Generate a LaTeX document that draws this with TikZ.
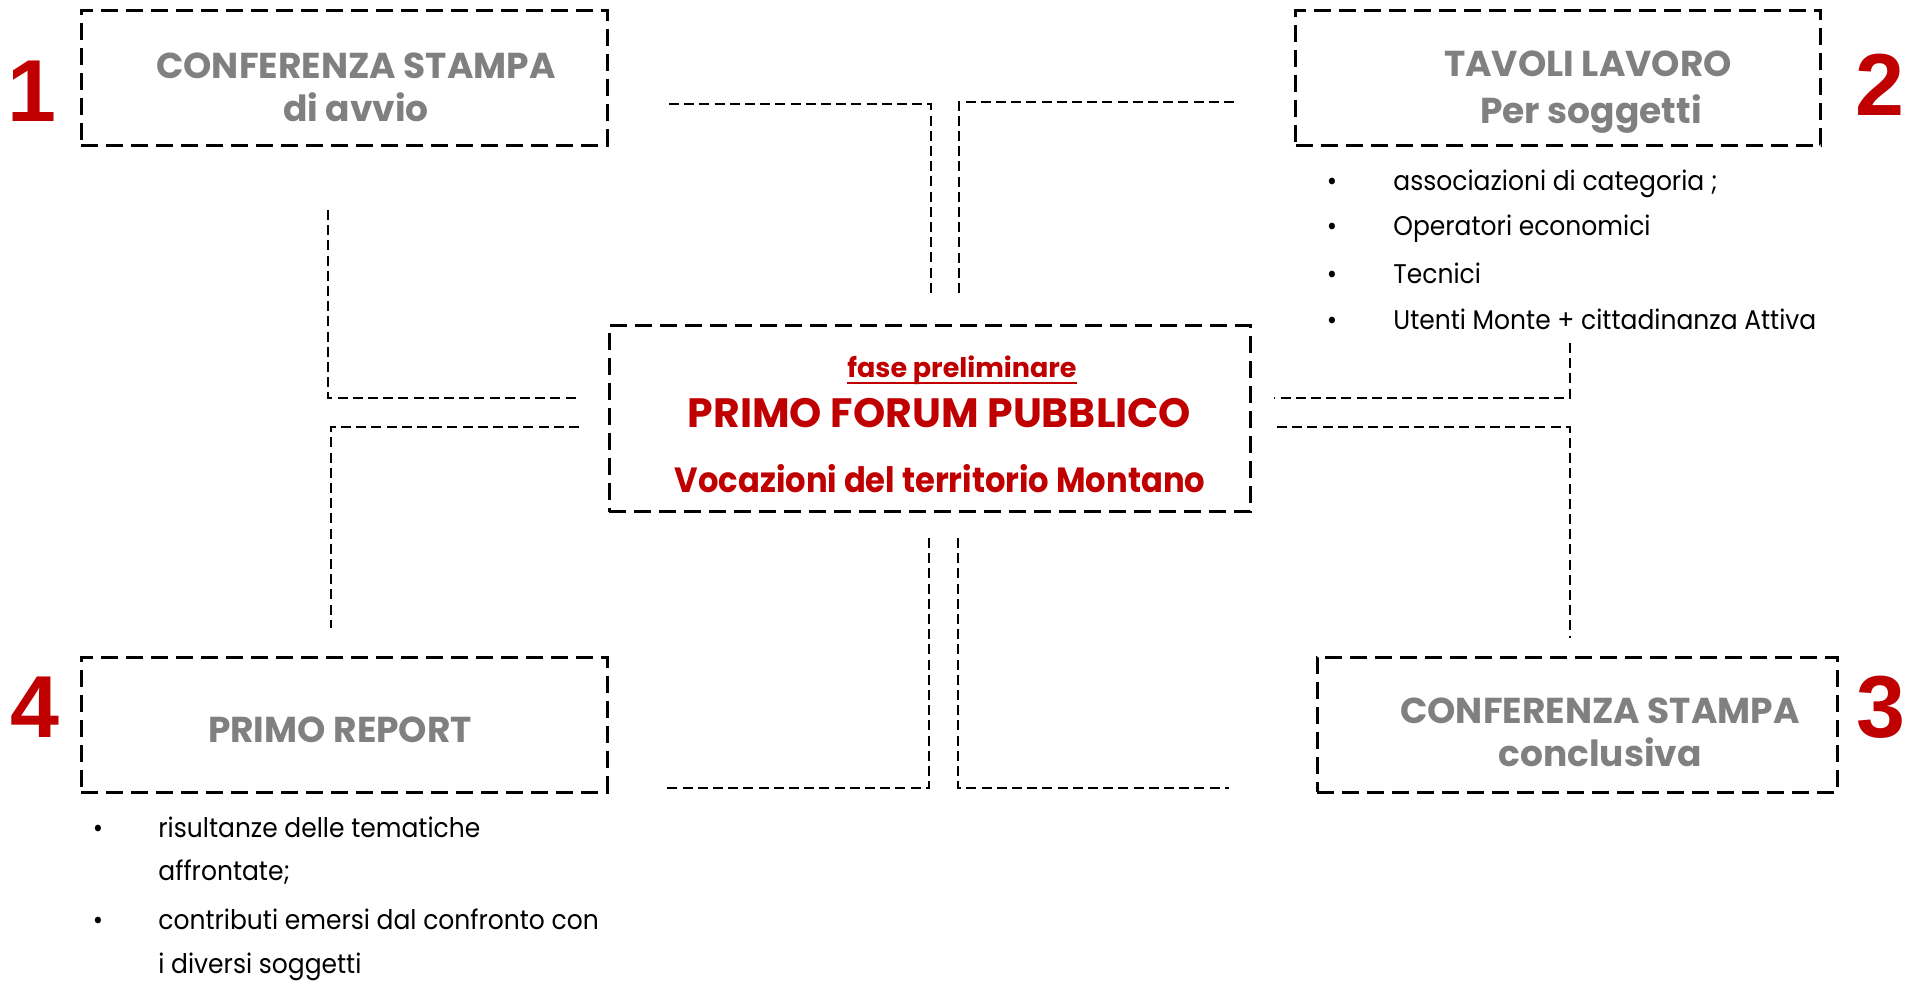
\documentclass[tikz,border=0pt]{standalone}
\usepackage{fontspec}
\setmainfont{Poppins}
\newfontfamily\gothic{Poppins}
\newfontfamily\gothicv[FakeStretch=0.92]{Poppins}
\newfontfamily\gothicb[FakeStretch=0.925]{Poppins}
\newfontfamily\numfont{Liberation Sans}
\definecolor{redc}{HTML}{C00000}
\definecolor{greyc}{HTML}{808080}
\newcommand\myfs[1]{\fontsize{#1}{#1}\selectfont}
\tikzset{
  box/.style={draw=black, line width=1.5pt, dash pattern=on 8.5pt off 4pt, minimum width=#1, minimum height=67.5pt, inner sep=0pt},
  conn/.style={draw=black, line width=0.9pt, dash pattern=on 5pt off 2.6pt},
  ttl/.style={anchor=base, inner sep=0pt, text=greyc, font=\gothic\bfseries\myfs{18pt}},
  redt/.style={anchor=base, inner sep=0pt, text=redc, font=\gothic\bfseries\myfs{#1}},
  num/.style={anchor=base, inner sep=0pt, text=redc, font=\numfont\bfseries\myfs{44pt}},
  bul/.style={anchor=base, inner sep=0pt, font=\gothicb\myfs{13.5pt}},
  itm/.style={anchor=base west, inner sep=0pt, font=\gothicb\myfs{13.5pt}}
}
\begin{document}
\begin{tikzpicture}[x=0.5pt,y=-0.5pt]
\useasboundingbox (0,0) rectangle (1920,982);
% boxes
\node[box=263pt] (b1) at (344,77.5) {};
\node[box=262.5pt] (b2) at (1558,77.5) {};
\node[box=320.5pt, minimum height=93pt] (bc) at (929.5,418.5) {};
\node[box=263pt] (b4) at (344,724.5) {};
\node[box=260pt] (b3) at (1577,724.5) {};
% numbers
\node[num] (n1) at (32,121) {1};
\node[num] (n2) at (1880,115) {2};
\node[num] (n3) at (1881,737) {3};
\node[num] (n4) at (35,737) {4};
% titles
\node[ttl] (t1a) at (356,78) {CONFERENZA STAMPA};
\node[ttl] (t1b) at (356,121) {di avvio};
\node[ttl] (t2a) at (1588,76) {TAVOLI LAVORO};
\node[ttl] (t2b) at (1591,123) {Per soggetti};
\node[ttl] (t3a) at (1600,723) {CONFERENZA STAMPA};
\node[ttl] (t3b) at (1600,766) {conclusiva};
\node[ttl] (t4) at (340,742) {PRIMO REPORT};
% central
\node[redt=13.5pt] (c1) at (962,377) {fase preliminare};
\draw[redc, line width=1.1pt] ([yshift=-3pt]c1.base west) -- ([yshift=-3pt]c1.base east);
\node[redt=20.5pt] (c2) at (939.5,427) {PRIMO FORUM PUBBLICO};
\node[anchor=base, inner sep=0pt, text=redc, font=\gothicv\bfseries\myfs{17.5pt}] (c3) at (940,492) {Vocazioni del territorio Montano};
% bullets box 2
\node[bul] (p1) at (1332,190) {•};
\node[itm] (i1) at (1393,190) {associazioni di categoria ;};
\node[bul] (p2) at (1332,235) {•};
\node[itm] (i2) at (1393,235) {Operatori economici};
\node[bul] (p3) at (1332,283) {•};
\node[itm] (i3) at (1393,283) {Tecnici};
\node[bul] (p4) at (1332,329) {•};
\node[itm] (i4) at (1393,329) {Utenti Monte + cittadinanza Attiva};
% bullets box 4
\node[bul] (q1) at (98,837) {•};
\node[itm] (j1) at (158,837) {risultanze delle tematiche};
\node[itm] (j2) at (158,880) {affrontate;};
\node[bul] (q2) at (98,929) {•};
\node[itm] (j3) at (158,929) {contributi emersi dal confronto con};
\node[itm] (j4) at (158,973) {i diversi soggetti};
% connectors
\coordinate (a1) at (669,104); \coordinate (a2) at (931,104); \coordinate (a3) at (931,295);
\coordinate (b1s) at (1234,102); \coordinate (b2s) at (959,102); \coordinate (b3s) at (959,295);
\coordinate (c1s) at (328,210); \coordinate (c2s) at (328,398); \coordinate (c3s) at (577,398);
\coordinate (d1) at (579,427); \coordinate (d2) at (331,427); \coordinate (d3) at (331,628);
\coordinate (e1) at (1570,343); \coordinate (e2) at (1570,398); \coordinate (e3) at (1274,398);
\coordinate (f1) at (1277,427); \coordinate (f2) at (1570,427); \coordinate (f3) at (1570,638);
\coordinate (g1) at (929,538); \coordinate (g2) at (929,788); \coordinate (g3) at (666,788);
\coordinate (h1) at (958,538); \coordinate (h2) at (958,788); \coordinate (h3) at (1229,788);
\draw[conn] (a1) -- (a2) -- (a3);
\draw[conn] (b1s) -- (b2s) -- (b3s);
\draw[conn] (c1s) -- (c2s) -- (c3s);
\draw[conn] (d1) -- (d2) -- (d3);
\draw[conn] (e1) -- (e2) -- (e3);
\draw[conn] (f1) -- (f2) -- (f3);
\draw[conn] (g1) -- (g2) -- (g3);
\draw[conn] (h1) -- (h2) -- (h3);
\end{tikzpicture}
\end{document}
